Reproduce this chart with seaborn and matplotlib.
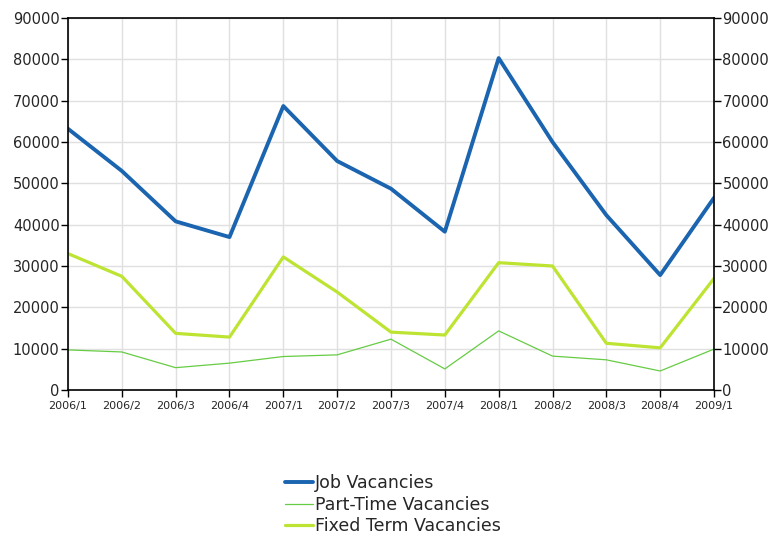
import matplotlib
matplotlib.use("Agg")
import matplotlib.pyplot as plt
import seaborn as sns
import pandas as pd

quarters = ["2006/1", "2006/2", "2006/3", "2006/4", "2007/1", "2007/2", "2007/3",
            "2007/4", "2008/1", "2008/2", "2008/3", "2008/4", "2009/1"]
job = [63200, 53000, 40800, 37000, 68700, 55400, 48700, 38300, 80300, 60000, 42300, 27800, 46500]
part_time = [9700, 9200, 5400, 6500, 8100, 8500, 12300, 5100, 14300, 8200, 7300, 4600, 9900]
fixed_term = [33000, 27500, 13700, 12800, 32200, 23700, 14000, 13300, 30800, 30000, 11300, 10200, 27000]

series = ["Job Vacancies", "Part-Time Vacancies", "Fixed Term Vacancies"]
df = pd.DataFrame({"Quarter": quarters * 3,
                   "Value": job + part_time + fixed_term,
                   "Series": [s for s in series for _ in quarters]})
df["pos"] = list(range(len(quarters))) * 3

sns.set_style("white")
plt.rcParams["font.family"] = ["DejaVu Sans"]

fig = plt.figure(figsize=(7.69, 5.36), dpi=100)
ax = fig.add_axes([0.0884, 0.2724, 0.8401, 0.694])

colors = {"Job Vacancies": "#1a64b0", "Part-Time Vacancies": "#66cc44", "Fixed Term Vacancies": "#bde432"}
widths = {"Job Vacancies": 2.8, "Part-Time Vacancies": 0.9, "Fixed Term Vacancies": 2.3}
for s in series:
    sub = df[df["Series"] == s]
    sns.lineplot(data=sub, x="pos", y="Value", color=colors[s], linewidth=widths[s],
                 label=s, ax=ax, legend=False)

ax.set_xlim(0, len(quarters) - 1)
ax.set_ylim(0, 90000)
ax.set_xticks(range(len(quarters)))
ax.set_xticklabels(quarters, fontsize=8)
ax.set_yticks(range(0, 90001, 10000))
ax.tick_params(axis="y", labelsize=10.5, left=True, right=True, labelright=True,
               length=5, width=1, color="black", pad=1)
ax.tick_params(axis="x", bottom=True, length=5, width=1, color="black", pad=3)
ax.set_xlabel("")
ax.set_ylabel("")
ax.grid(True, color="#e0e0e0", linewidth=1)
for sp in ax.spines.values():
    sp.set_color("black")
    sp.set_linewidth(1.2)

handles, labels = ax.get_legend_handles_labels()
fig.legend(handles, labels, loc="center", bbox_to_anchor=(0.511, 0.058), frameon=False,
           fontsize=12.5, handlelength=1.6, handletextpad=0.15, labelspacing=0.2)

fig.savefig("out.png", dpi=100)
